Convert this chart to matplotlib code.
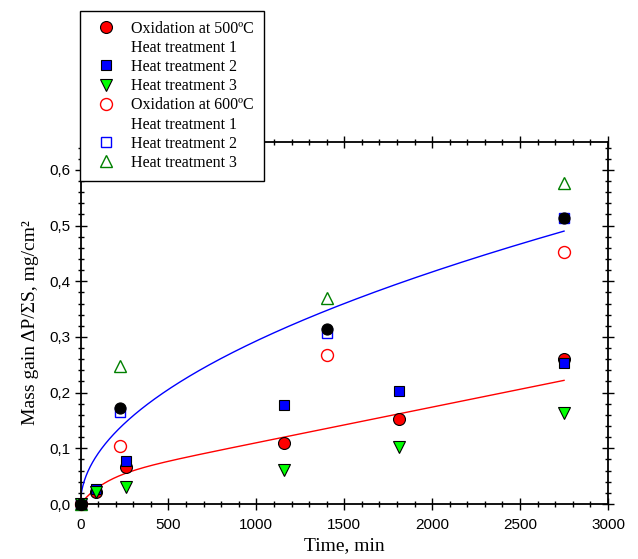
import numpy as np
import matplotlib
matplotlib.use("Agg")
import matplotlib.pyplot as plt
from matplotlib.lines import Line2D
from matplotlib.ticker import MultipleLocator, FuncFormatter

# ---- data ----
t500 = [0, 86, 257, 1160, 1810, 2750]
ht1_500 = [0.0, 0.021, 0.066, 0.110, 0.152, 0.260]
ht2_500 = [0.0, 0.027, 0.077, 0.178, 0.203, 0.253]
ht3_500 = [0.0, 0.021, 0.030, 0.061, 0.103, 0.163]

t600 = [0, 222, 1400, 2750]
ht1_600 = [0.0, 0.104, 0.267, 0.452]
ht2_600 = [0.0, 0.165, 0.307, 0.513]
ht3_600 = [0.0, 0.248, 0.370, 0.576]
mean_600 = [0.0, 0.172, 0.314, 0.513]

# trend-curve coefficients
blue_a, blue_b = 0.49, 0.509          # y = a*(t/2750)^b
red_A, red_tau, red_B = 0.046, 140.0, 6.4e-5   # y = A(1-exp(-t/tau)) + B t
t_end = 2750

fig = plt.figure(figsize=(6.38, 5.59), dpi=100)
ax = fig.add_axes([80.5/638, 1-504/559, (608-80.5)/638, (504-142)/559])

tt = np.linspace(0, t_end, 600)
ax.plot(tt, blue_a*(tt/t_end)**blue_b, color='blue', lw=1.0, zorder=2)
ax.plot(tt, red_A*(1-np.exp(-tt/red_tau)) + red_B*tt, color='red', lw=1.0, zorder=2)

kw = dict(ls='none', clip_on=False)
ax.plot(t600, ht1_600, marker='o', ms=8.6, mfc='none', mec='red', mew=1.0, zorder=3, **kw)
ax.plot(t600, ht2_600, marker='s', ms=7.2, mfc='none', mec='blue', mew=1.0, zorder=3, **kw)
ax.plot(t600, ht3_600, marker='^', ms=8.0, mfc='none', mec='green', mew=1.0, zorder=3, **kw)

ax.plot(t500, ht1_500, marker='o', ms=8.6, mfc='red', mec='black', mew=0.8, zorder=4, **kw)
ax.plot(t500, ht2_500, marker='s', ms=7.2, mfc='blue', mec='black', mew=0.8, zorder=5, **kw)
ax.plot(t500, ht3_500, marker='v', ms=8.0, mfc='#00ff00', mec='black', mew=0.8, zorder=6, **kw)
ax.plot(t600, mean_600, marker='o', ms=8.0, mfc='black', mec='black', mew=0.8, zorder=7, **kw)

ax.set_xlim(0, 3000)
ax.set_ylim(0, 0.65)
ax.xaxis.set_major_locator(MultipleLocator(500))
ax.xaxis.set_minor_locator(MultipleLocator(100))
ax.yaxis.set_major_locator(MultipleLocator(0.1))
ax.yaxis.set_minor_locator(MultipleLocator(0.02))
ax.yaxis.set_major_formatter(FuncFormatter(lambda v, p: f"{v:.1f}".replace('.', ',')))

ax.tick_params(which='both', direction='inout', top=True, right=True,
               width=1.0, labelsize=11)
ax.tick_params(axis='x', which='major', pad=6)
ax.tick_params(axis='y', which='major', pad=3)
ax.tick_params(which='major', length=8)
ax.tick_params(which='minor', length=5)
for lab in ax.get_xticklabels() + ax.get_yticklabels():
    lab.set_fontfamily('Liberation Sans')
for s in ax.spines.values():
    s.set_linewidth(1.3)

serif = 'Liberation Serif'
ax.set_xlabel('Time, min', fontsize=14, fontfamily=serif, labelpad=4)
ax.set_ylabel('Mass gain \u0394P/\u03a3S, mg/cm\u00b2', fontsize=14, fontfamily=serif, labelpad=8)

blank = Line2D([], [], linestyle='none', marker=None)
handles = [
    Line2D([], [], ls='none', marker='o', ms=8.6, mfc='red', mec='black', mew=0.8),
    blank,
    Line2D([], [], ls='none', marker='s', ms=7.2, mfc='blue', mec='black', mew=0.8),
    Line2D([], [], ls='none', marker='v', ms=8.0, mfc='#00ff00', mec='black', mew=0.8),
    Line2D([], [], ls='none', marker='o', ms=8.6, mfc='none', mec='red', mew=1.0),
    blank,
    Line2D([], [], ls='none', marker='s', ms=7.2, mfc='none', mec='blue', mew=1.0),
    Line2D([], [], ls='none', marker='^', ms=8.0, mfc='none', mec='green', mew=1.0),
]
labels = ['Oxidation at 500\u00baC', 'Heat treatment 1', 'Heat treatment 2', 'Heat treatment 3',
          'Oxidation at 600\u00baC', 'Heat treatment 1', 'Heat treatment 2', 'Heat treatment 3']
leg = ax.legend(handles, labels, loc='upper left', bbox_to_anchor=(80/638, 1-11/559),
                bbox_transform=fig.transFigure, borderaxespad=0, frameon=True,
                fancybox=False, edgecolor='black', framealpha=1,
                prop={'family': serif, 'size': 11.5}, handlelength=2.0,
                handletextpad=0.62, labelspacing=0.2, borderpad=0.6)
leg.get_frame().set_linewidth(1.0)
leg.set_zorder(10)

fig.savefig('out.png', dpi=100)
